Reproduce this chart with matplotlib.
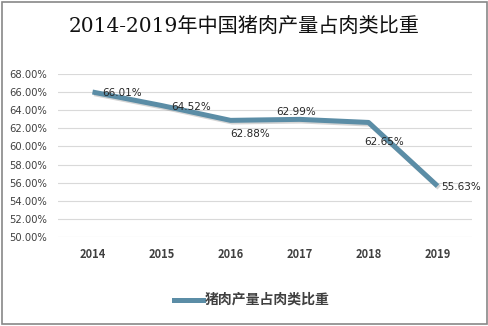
import matplotlib
matplotlib.use("Agg")
import matplotlib.pyplot as plt
import matplotlib.patheffects as pe
from matplotlib.patches import Rectangle

plt.rcParams['font.family'] = ['Noto Sans CJK SC', 'DejaVu Sans']

years = ["2014", "2015", "2016", "2017", "2018", "2019"]
shares = [66.01, 64.52, 62.88, 62.99, 62.65, 55.63]
value_labels = ["66.01%", "64.52%", "62.88%", "62.99%", "62.65%", "55.63%"]
yticks = [50, 52, 54, 56, 58, 60, 62, 64, 66, 68]
title = "2014-2019年中国猪肉产量占肉类比重"
series_name = "猪肉产量占肉类比重"

line_color = "#5B8DA6"
W, H = 489, 326
fig = plt.figure(figsize=(W / 100, H / 100), dpi=100)

left, right, top, bottom = 58, 472, 74, 237
ax = fig.add_axes([left / W, 1 - bottom / H, (right - left) / W, (bottom - top) / H])
x = list(range(len(years)))
ax.plot(x, shares, color=line_color, lw=3.6, solid_capstyle='butt', zorder=3,
        path_effects=[pe.SimpleLineShadow(offset=(1.2, -1.2), shadow_color='#888888', alpha=0.35),
                      pe.Normal()])
ax.set_xlim(-0.5, len(years) - 0.5)
ax.set_ylim(50, 68)
ax.set_yticks(yticks)
ax.set_yticklabels([f"{v:.2f}%" for v in yticks], fontsize=7.2, color='#404040',
                   family=['DejaVu Sans'])
ax.set_xticks(x)
ax.set_xticklabels(years, fontsize=8, fontweight='bold', color='#404040')
ax.tick_params(length=0, axis='both')
ax.tick_params(axis='y', pad=8)
ax.tick_params(axis='x', pad=8)
ax.grid(axis='y', color='#D9D9D9', lw=0.8)
ax.set_axisbelow(True)
for s in ax.spines.values():
    s.set_visible(False)

offsets = [(30, -1), (30, -1), (20, -14), (-3, 7), (16, -20), (24, -1)]
for xi, yi, lab, (dx, dy) in zip(x, shares, value_labels, offsets):
    ax.annotate(lab, (xi, yi), xytext=(dx * 0.72, dy * 0.72), textcoords='offset points',
                ha='center', va='center', fontsize=7.5, color='#262626',
                family=['DejaVu Sans'], zorder=4)

fig.text(0.5, 1 - 26 / H, title, ha='center', va='center', fontsize=14.5,
         family=['DejaVu Serif', 'Noto Sans CJK SC'], color='#111111')

ly = 1 - 300 / H
fig.add_artist(plt.Line2D([174 / W, 203 / W], [ly, ly], color=line_color, lw=3.6,
                          transform=fig.transFigure))
fig.text(205 / W, ly, series_name, ha='left', va='center', fontsize=10,
         fontweight='bold', color='#404040')

fig.add_artist(Rectangle((2 / W, 2 / H), (W - 4) / W, (H - 4) / H, transform=fig.transFigure,
                         fill=False, edgecolor='#888888', lw=1.2))

fig.savefig("out.png", dpi=100)
